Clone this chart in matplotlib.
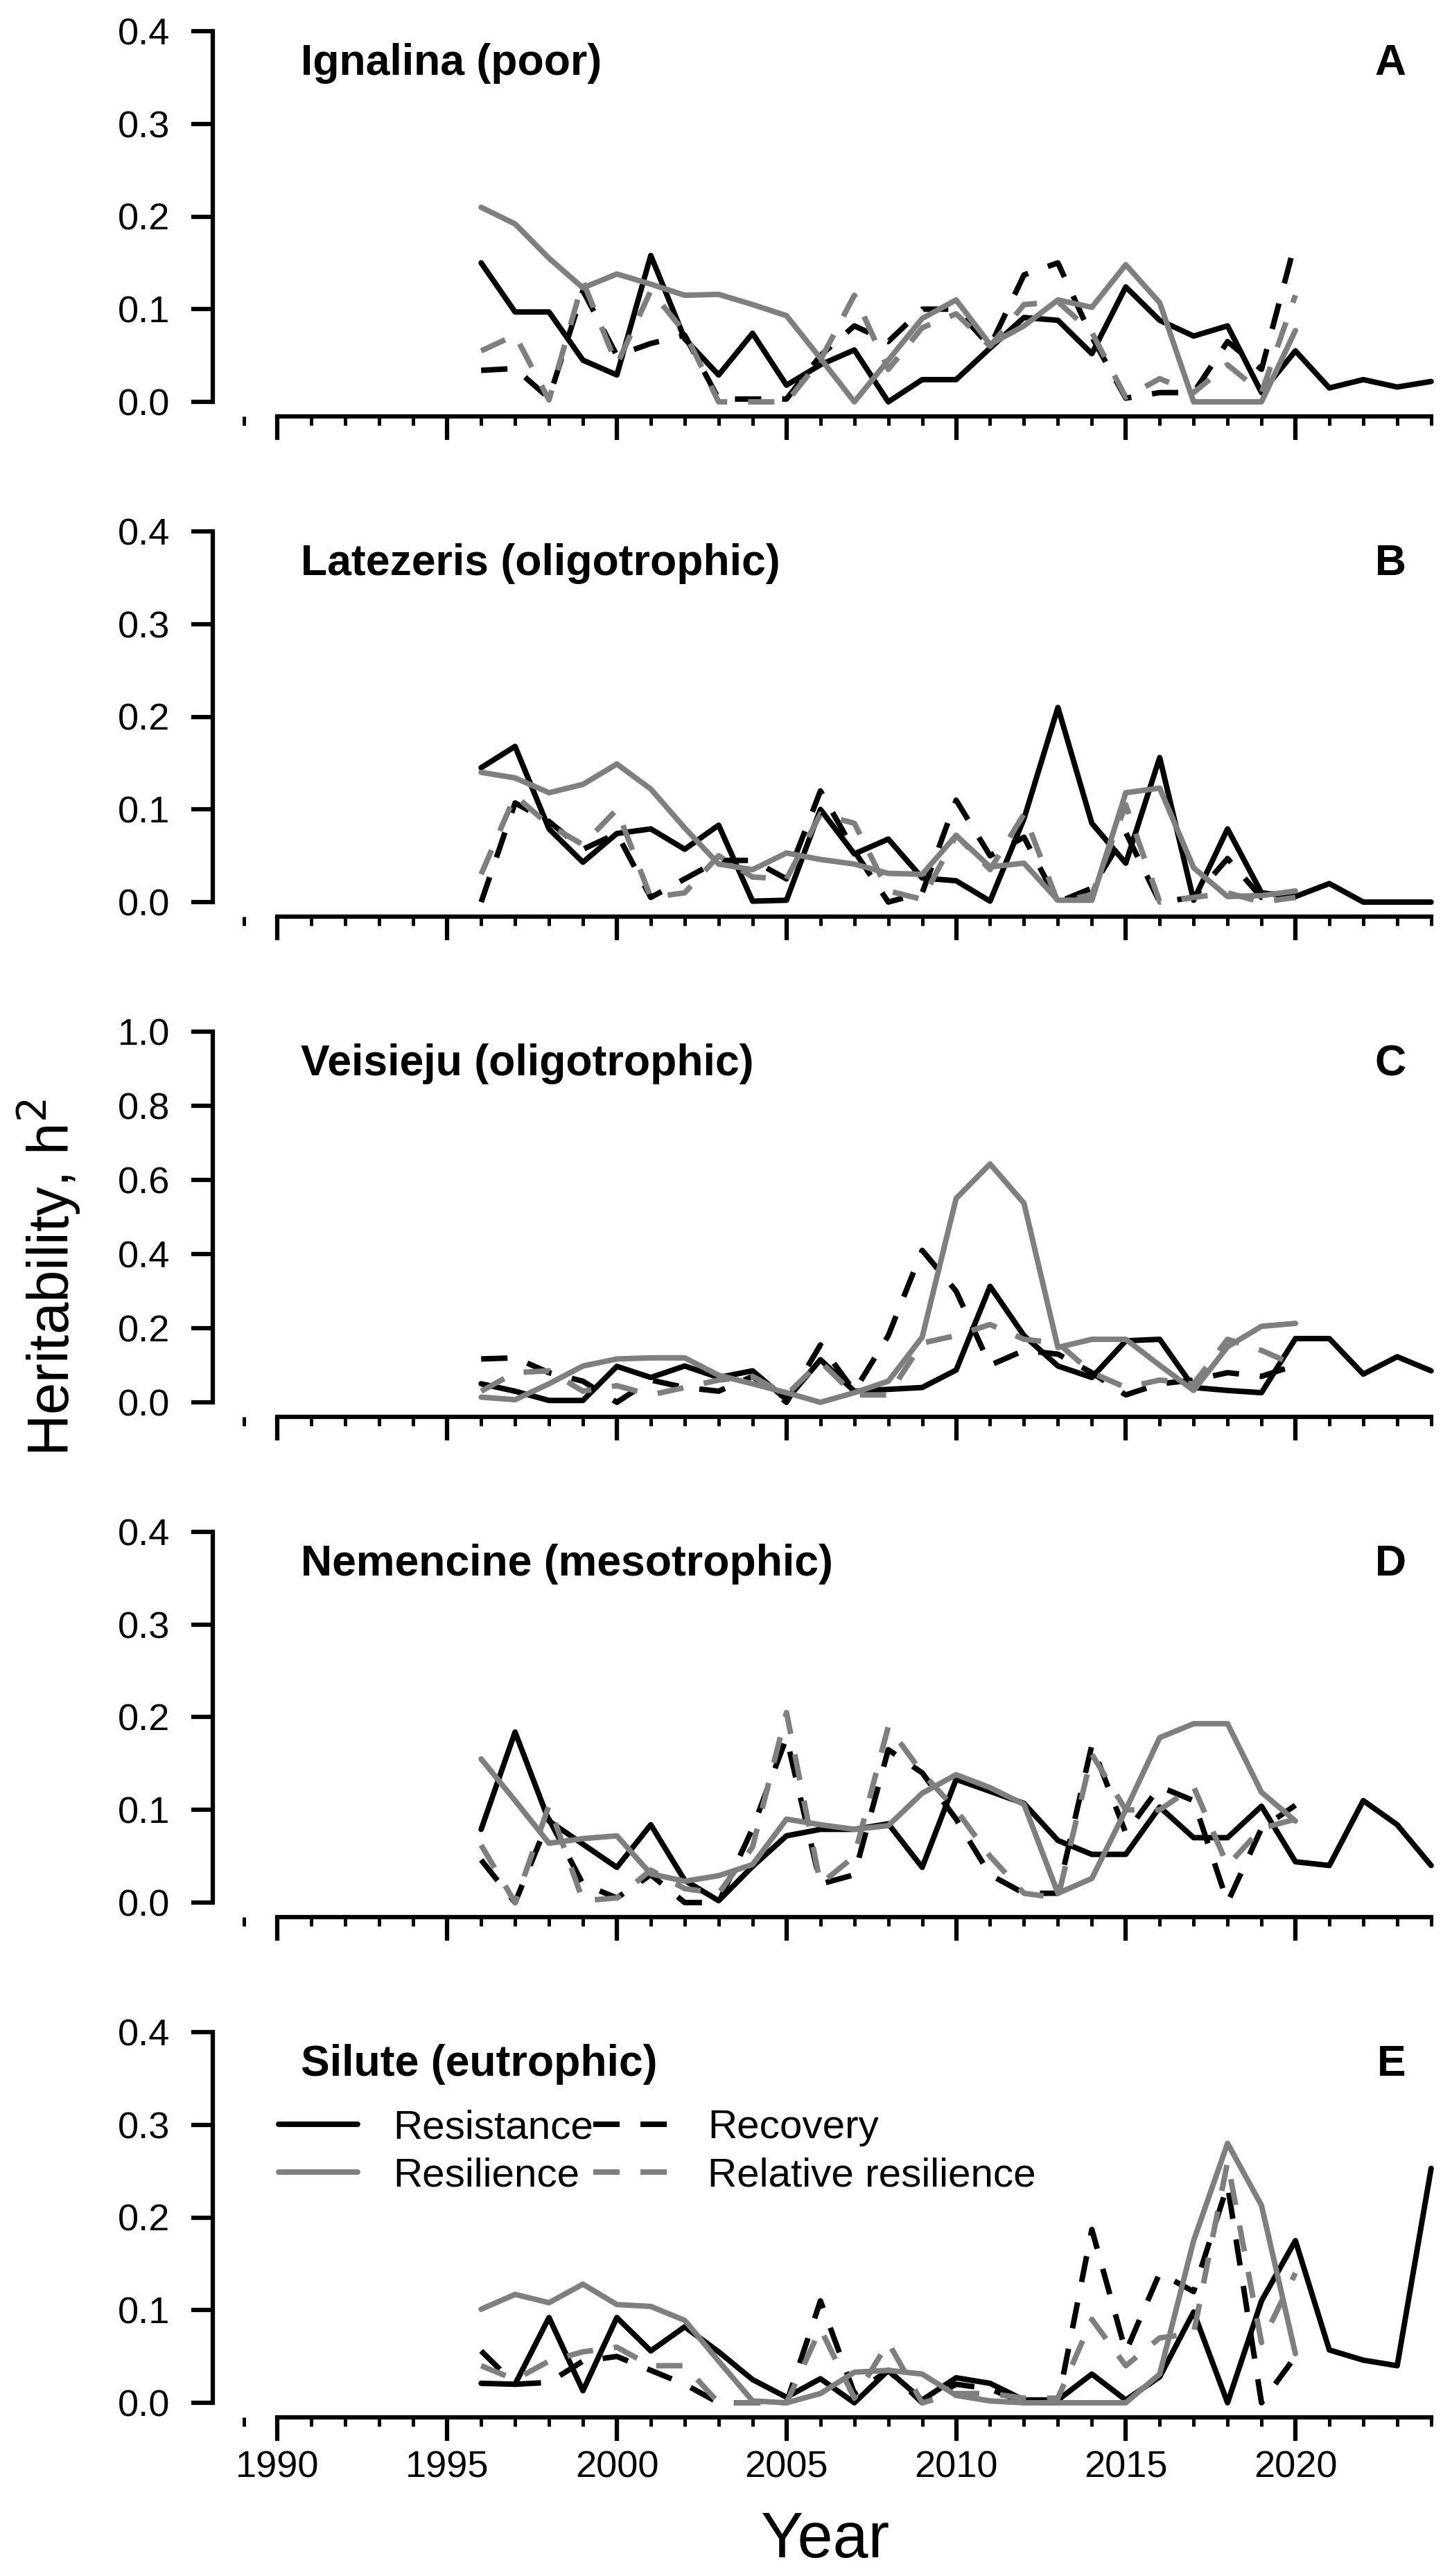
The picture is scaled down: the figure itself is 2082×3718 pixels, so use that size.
import numpy as np
import matplotlib
matplotlib.use("Agg")
import matplotlib.pyplot as plt
from matplotlib.ticker import MultipleLocator

plt.rcParams["font.family"] = ["Liberation Sans", "DejaVu Sans"]

# --- data ---------------------------------------------------------------
years_long = list(range(1996, 2025))   # resistance runs to 2024
years_short = list(range(1996, 2021))  # the other three end in 2020

sites = ["Ignalina (poor)", "Latezeris (oligotrophic)", "Veisieju (oligotrophic)",
         "Nemencine (mesotrophic)", "Silute (eutrophic)"]
panel_letters = ["A", "B", "C", "D", "E"]

resistance = [
    [0.150, 0.097, 0.097, 0.045, 0.029, 0.158, 0.068, 0.029, 0.074, 0.018, 0.040, 0.056, 0.000, 0.024,
     0.024, 0.058, 0.091, 0.088, 0.052, 0.124, 0.088, 0.071, 0.082, 0.010, 0.055, 0.015, 0.024, 0.016, 0.022],
    [0.145, 0.168, 0.079, 0.043, 0.074, 0.079, 0.057, 0.083, 0.001, 0.002, 0.100, 0.052, 0.068, 0.026,
     0.023, 0.001, 0.090, 0.210, 0.085, 0.042, 0.156, 0.002, 0.079, 0.010, 0.006, 0.020, 0.000, 0.000, 0.000],
    [0.050, 0.030, 0.005, 0.005, 0.097, 0.067, 0.098, 0.067, 0.085, 0.007, 0.115, 0.030, 0.035, 0.040,
     0.087, 0.313, 0.180, 0.098, 0.067, 0.166, 0.170, 0.040, 0.032, 0.026, 0.172, 0.172, 0.076, 0.123, 0.085],
    [0.079, 0.184, 0.088, 0.063, 0.038, 0.084, 0.024, 0.002, 0.039, 0.072, 0.079, 0.079, 0.085, 0.038,
     0.133, 0.120, 0.107, 0.067, 0.052, 0.052, 0.103, 0.070, 0.070, 0.104, 0.044, 0.040, 0.110, 0.084, 0.040],
    [0.021, 0.020, 0.092, 0.013, 0.092, 0.056, 0.082, 0.055, 0.025, 0.006, 0.026, 0.000, 0.035, 0.003,
     0.027, 0.021, 0.003, 0.003, 0.031, 0.003, 0.028, 0.098, 0.000, 0.110, 0.175, 0.057, 0.046, 0.040, 0.253],
]

resilience = [
    [0.210, 0.192, 0.155, 0.123, 0.138, 0.127, 0.115, 0.116, 0.105, 0.093, 0.047, 0.000, 0.045,
     0.090, 0.110, 0.062, 0.082, 0.110, 0.102, 0.148, 0.107, 0.000, 0.000, 0.000, 0.077],
    [0.140, 0.134, 0.118, 0.127, 0.149, 0.122, 0.080, 0.041, 0.035, 0.053, 0.046, 0.041, 0.031,
     0.030, 0.072, 0.038, 0.042, 0.002, 0.002, 0.118, 0.123, 0.037, 0.006, 0.007, 0.012],
    [0.014, 0.007, 0.050, 0.098, 0.117, 0.120, 0.120, 0.073, 0.050, 0.026, 0.000, 0.026, 0.057,
     0.176, 0.550, 0.643, 0.537, 0.148, 0.170, 0.170, 0.100, 0.032, 0.150, 0.205, 0.213],
    [0.155, 0.110, 0.064, 0.069, 0.072, 0.031, 0.023, 0.029, 0.041, 0.090, 0.084, 0.079, 0.083,
     0.118, 0.138, 0.124, 0.106, 0.010, 0.026, 0.100, 0.178, 0.193, 0.193, 0.119, 0.088],
    [0.101, 0.117, 0.108, 0.128, 0.106, 0.104, 0.089, 0.045, 0.002, 0.000, 0.010, 0.033, 0.035,
     0.031, 0.008, 0.002, 0.000, 0.000, 0.000, 0.000, 0.031, 0.175, 0.280, 0.213, 0.053],
]

recovery = [
    [0.034, 0.036, 0.004, 0.120, 0.050, 0.063, 0.072, 0.003, 0.003, 0.003, 0.050, 0.082, 0.065,
     0.100, 0.100, 0.060, 0.137, 0.150, 0.070, 0.004, 0.010, 0.010, 0.065, 0.035, 0.173],
    [0.000, 0.107, 0.087, 0.057, 0.074, 0.005, 0.025, 0.045, 0.045, 0.025, 0.120, 0.055, 0.000,
     0.010, 0.110, 0.050, 0.070, 0.000, 0.015, 0.075, 0.000, 0.005, 0.047, 0.005, 0.005],
    [0.117, 0.120, 0.080, 0.057, 0.000, 0.060, 0.040, 0.030, 0.070, 0.000, 0.155, 0.030, 0.180,
     0.410, 0.300, 0.100, 0.140, 0.130, 0.080, 0.020, 0.050, 0.060, 0.080, 0.070, 0.100],
    [0.046, 0.000, 0.090, 0.020, 0.005, 0.030, 0.000, 0.000, 0.080, 0.178, 0.020, 0.030, 0.165,
     0.140, 0.090, 0.030, 0.010, 0.010, 0.170, 0.075, 0.125, 0.110, 0.000, 0.080, 0.105],
    [0.056, 0.020, 0.022, 0.045, 0.050, 0.035, 0.020, 0.000, 0.000, 0.000, 0.110, 0.010, 0.035,
     0.000, 0.020, 0.015, 0.000, 0.000, 0.187, 0.055, 0.140, 0.120, 0.235, 0.000, 0.050],
]

relative_resilience = [
    [0.055, 0.072, 0.002, 0.130, 0.040, 0.120, 0.075, 0.000, 0.000, 0.000, 0.045, 0.115, 0.035,
     0.080, 0.095, 0.060, 0.105, 0.108, 0.075, 0.005, 0.025, 0.010, 0.040, 0.010, 0.115],
    [0.030, 0.115, 0.083, 0.062, 0.100, 0.005, 0.010, 0.050, 0.027, 0.025, 0.095, 0.085, 0.012,
     0.003, 0.072, 0.035, 0.095, 0.000, 0.008, 0.105, 0.000, 0.005, 0.010, 0.000, 0.005],
    [0.030, 0.080, 0.085, 0.030, 0.045, 0.020, 0.040, 0.060, 0.070, 0.020, 0.110, 0.020, 0.020,
     0.160, 0.180, 0.210, 0.170, 0.160, 0.080, 0.040, 0.060, 0.050, 0.170, 0.140, 0.100],
    [0.062, 0.000, 0.105, 0.002, 0.005, 0.035, 0.015, 0.010, 0.060, 0.205, 0.020, 0.050, 0.190,
     0.140, 0.100, 0.050, 0.010, 0.005, 0.160, 0.100, 0.100, 0.125, 0.040, 0.080, 0.090],
    [0.040, 0.025, 0.045, 0.055, 0.060, 0.040, 0.040, 0.000, 0.000, 0.000, 0.080, 0.005, 0.065,
     0.000, 0.010, 0.010, 0.005, 0.005, 0.090, 0.040, 0.070, 0.075, 0.260, 0.065, 0.140],
]

y_max = [0.4, 0.4, 1.0, 0.4, 0.4]
y_step = [0.1, 0.1, 0.2, 0.1, 0.1]

# --- layout (pixel geometry of the 2082 x 3718 original) -----------------
W, H, DPI = 2082, 3718, 300
GRAY = "#7f7f7f"
LW = 1.9
DASH = (4.8, 3.8)

fig = plt.figure(figsize=(W / DPI, H / DPI), dpi=DPI)

ax_left = 307 / W
ax_w = 1 - ax_left
panel_top = 23.6
panel_h = 577.8
panel_step = 722

line_kw = dict(solid_capstyle="round", solid_joinstyle="round",
               dash_joinstyle="round", clip_on=False)

for i in range(5):
    top = panel_top + i * panel_step
    ax = fig.add_axes([ax_left, 1 - (top + panel_h) / H, ax_w, panel_h / H])
    pad = y_max[i] * 0.04

    h_res, = ax.plot(years_long, resistance[i], color="black", lw=LW, **line_kw)
    h_rec, = ax.plot(years_short, recovery[i], color="black", lw=LW, dashes=DASH, **line_kw)
    h_resil, = ax.plot(years_short, resilience[i], color=GRAY, lw=LW, **line_kw)
    h_rel, = ax.plot(years_short, relative_resilience[i], color=GRAY, lw=LW, dashes=DASH, **line_kw)

    ax.set_xlim(1988.09, 2024.35)
    ax.set_ylim(-pad, y_max[i] + pad)

    for s in ("top", "right"):
        ax.spines[s].set_visible(False)
    ax.spines["left"].set_bounds(0, y_max[i])
    ax.spines["bottom"].set_bounds(1990, 2024)
    for s in ("left", "bottom"):
        ax.spines[s].set_linewidth(1.5)

    ax.set_yticks(np.arange(0, y_max[i] + 1e-9, y_step[i]))
    ax.yaxis.set_major_formatter(plt.FuncFormatter(lambda v, p: f"{v:.1f}"))
    ax.tick_params(axis="y", length=7.4, width=1.5, pad=7.5, labelsize=13)

    ax.xaxis.set_minor_locator(MultipleLocator(1))
    ax.set_xticks(range(1990, 2021, 5))
    ax.tick_params(axis="x", which="major", length=8.2, width=1.5, pad=3, labelsize=13)
    ax.tick_params(axis="x", which="minor", length=3.0, width=1.2)
    if i < 4:
        ax.tick_params(axis="x", labelbottom=False)

    ax.text(0.0715, 0.882, sites[i], transform=ax.transAxes, fontsize=15,
            fontweight="bold", ha="left", va="center")
    ax.text(0.970, 0.882, panel_letters[i], transform=ax.transAxes, fontsize=15,
            fontweight="bold", ha="right", va="center")

    if i == 4:
        ax.legend([h_res, h_resil, h_rec, h_rel],
                  ["Resistance", "Resilience", "Recovery", "Relative resilience"],
                  ncol=2, loc="upper left", bbox_to_anchor=(0.0535, 0.77),
                  frameon=False, fontsize=14, handlelength=1.96, handletextpad=0.87,
                  columnspacing=0.0, labelspacing=0.25, borderpad=0, borderaxespad=0)

fig.text(0.034, 0.504, "Heritability, h$^2$", rotation=90, ha="center", va="center",
         fontsize=20)
fig.text(0.5716, 0.0137, "Year", ha="center", va="center", fontsize=22)

fig.savefig("out.png", dpi=DPI)
